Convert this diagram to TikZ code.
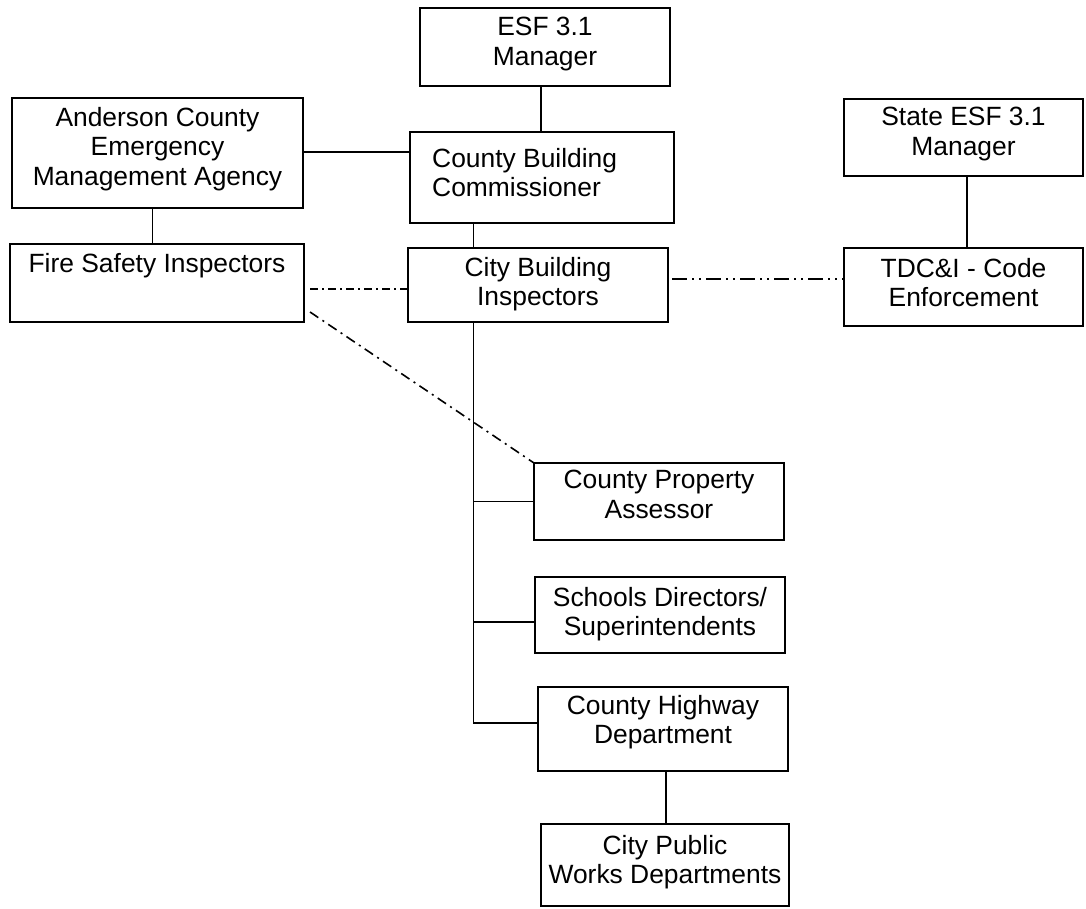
\documentclass[tikz,border=0pt]{standalone}
\usepackage{fontspec}
\setmainfont{Liberation Sans}
\begin{document}
\begin{tikzpicture}[x=1pt,y=-1pt,
  boxbase/.style={draw, inner sep=0pt, outer sep=0pt, anchor=north west},
  boxthick/.style={boxbase, line width=2.7pt},
  boxmid/.style={boxbase, line width=2.1pt},
  boxthin/.style={boxbase, line width=1.5pt},
  txt/.style={inner sep=0pt, align=center, font=\fontsize{26.4}{29.5}\selectfont},
  conn/.style={line width=1.9pt},
  dashdot1/.style={line width=1.6pt, dash pattern=on 8pt off 4pt on 2pt off 4pt},
  dashdot2/.style={line width=1.6pt, dash pattern=on 15pt off 5pt on 2pt off 5pt on 2pt off 5pt},
  dashdot3/.style={line width=1.6pt, dash pattern=on 10pt off 5pt on 2pt off 5pt}
]
\useasboundingbox (0,0) rectangle (1086,909);
\fill[white] (0,0) rectangle (1086,909);

% boxes
\node[boxthick, minimum width=250pt, minimum height=78pt] (esf) at (420,8) {};
\node[boxthick, minimum width=291pt, minimum height=110pt] (aca) at (12,98) {};
\node[boxmid, minimum width=264pt, minimum height=91pt] (cbc) at (410,132) {};
\node[boxthin, minimum width=239pt, minimum height=77pt] (state) at (844,99) {};
\node[boxthick, minimum width=294pt, minimum height=78pt] (fire) at (10,244) {};
\node[boxthin, minimum width=260pt, minimum height=74pt] (cbi) at (408,248) {};
\node[boxthin, minimum width=239pt, minimum height=78pt] (tdc) at (844,248) {};
\node[boxthick, minimum width=250pt, minimum height=77pt] (cpa) at (534,463) {};
\node[boxthick, minimum width=250pt, minimum height=76pt] (sch) at (535,577) {};
\node[boxthick, minimum width=250pt, minimum height=84pt] (chd) at (538,687) {};
\node[boxthick, minimum width=248pt, minimum height=82pt] (cpw) at (541,824) {};

% texts
\node[txt, anchor=north] (esft) at ([yshift=-9pt]esf.north) {ESF 3.1\\Manager};
\node[txt, anchor=north] (acat) at ([yshift=-9pt]aca.north) {Anderson County\\Emergency\\Management Agency};
\node[txt, anchor=north west, align=left] (cbct) at ([xshift=22pt,yshift=-16pt]cbc.north west) {County Building\\Commissioner};
\node[txt, anchor=north] (statet) at ([yshift=-8pt]state.north) {State ESF 3.1\\Manager};
\node[txt, anchor=north] (firet) at ([yshift=-9pt]fire.north) {Fire Safety Inspectors};
\node[txt, anchor=north] (cbit) at ([yshift=-9pt]cbi.north) {City Building\\Inspectors};
\node[txt, anchor=north] (tdct) at ([yshift=-10pt]tdc.north) {TDC\&I - Code\\Enforcement};
\node[txt, anchor=north] (cpat) at ([yshift=-7pt]cpa.north) {County Property\\Assessor};
\node[txt, anchor=north] (scht) at ([yshift=-10pt]sch.north) {Schools Directors/\\Superintendents};
\node[txt, anchor=north] (chdt) at ([yshift=-8pt]chd.north) {County Highway\\Department};
\node[txt, anchor=north] (cpwt) at ([yshift=-11pt]cpw.north) {City Public\\Works Departments};

% solid connectors
\coordinate (spine) at (473.5,0);
\coordinate (bend) at (473.5,723);
\draw[conn] ([xshift=-4pt]esf.south) -- ([xshift=-4pt]esf.south |- cbc.north);
\draw[conn] ([yshift=1pt]aca.east) -- ([yshift=1pt]aca.east -| cbc.west);
\draw[conn] ([xshift=-5pt]aca.south) -- ([xshift=-5pt]aca.south |- fire.north);
\draw[conn] (cbc.south -| spine) -- (cbi.north -| spine);
\draw[conn] (cbi.south -| spine) -- (bend) -- (bend -| chd.west);
\draw[conn] (spine |- cpa.west) -- (cpa.west);
\draw[conn] ([yshift=-7pt]sch.west -| spine) -- ([yshift=-7pt]sch.west);
\draw[conn] ([xshift=3pt]chd.south) -- ([xshift=3pt]chd.south |- cpw.north);
\draw[conn] ([xshift=3.5pt]state.south) -- ([xshift=3.5pt]state.south |- tdc.north);

% dash-dot connectors
\draw[dashdot1] ([xshift=6pt,yshift=-6pt]fire.east) -- ([yshift=-6pt]fire.east -| cbi.west);
\draw[dashdot2] ([xshift=4pt,yshift=6pt]cbi.east) -- ([yshift=6pt]cbi.east -| tdc.west);
\draw[dashdot3] ([xshift=6pt,yshift=-29pt]fire.east) -- (cpa.north west);
\end{tikzpicture}
\end{document}
